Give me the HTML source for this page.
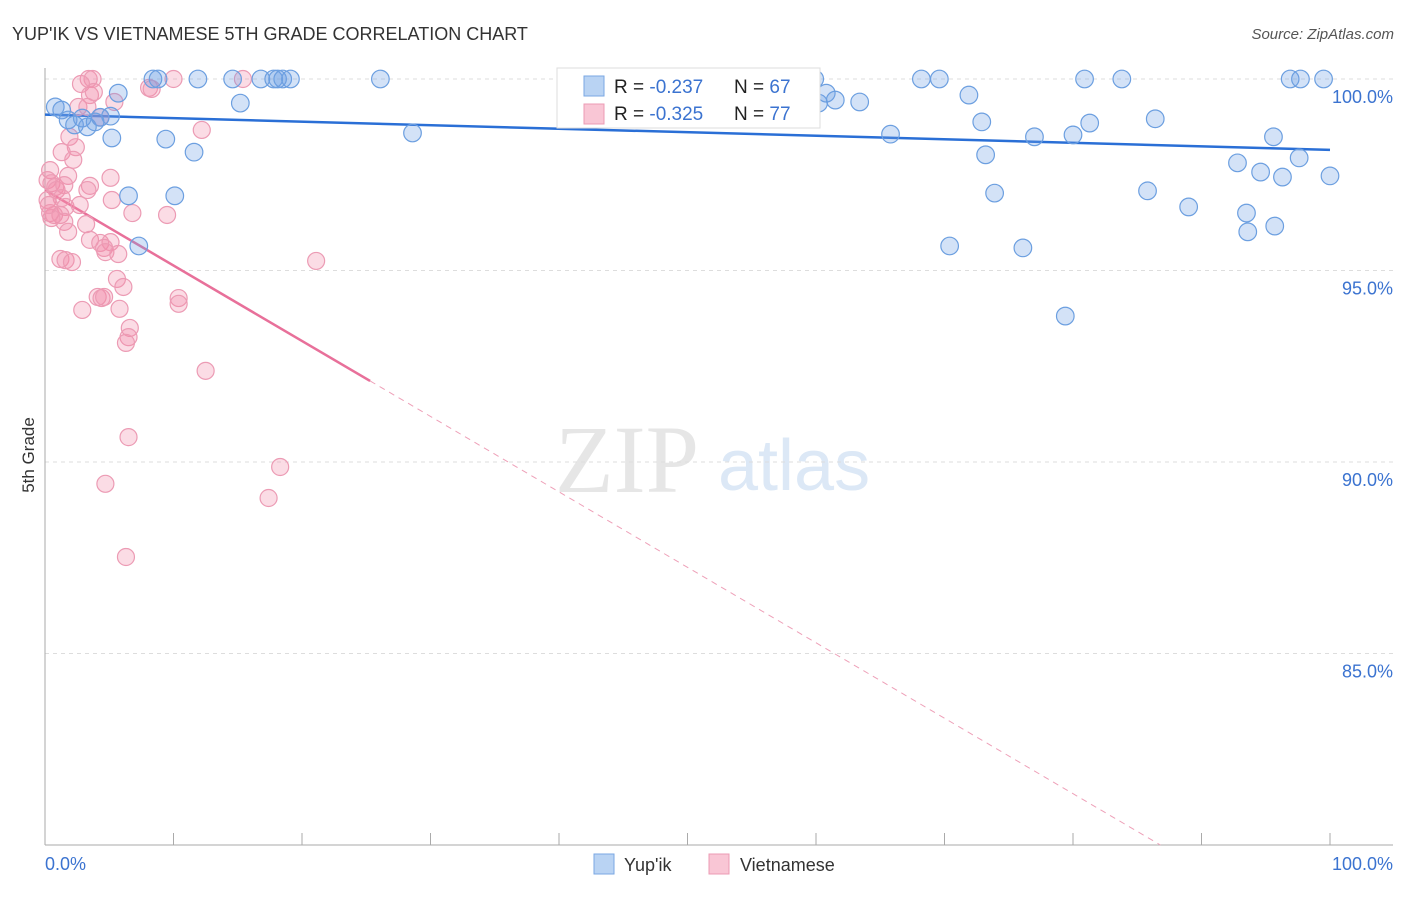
<!DOCTYPE html>
<html><head><meta charset="utf-8"><style>
body{margin:0;background:#fff;font-family:"Liberation Sans",sans-serif}
</style></head><body>
<svg width="1406" height="892" xmlns="http://www.w3.org/2000/svg" font-family="Liberation Sans, sans-serif">
<text x="12" y="40" font-size="18" fill="#333">YUP'IK VS VIETNAMESE 5TH GRADE CORRELATION CHART</text>
<text x="1394" y="39" font-size="15" fill="#555" font-style="italic" text-anchor="end">Source: ZipAtlas.com</text>
<text transform="translate(34,455) rotate(-90)" font-size="17" fill="#333" text-anchor="middle">5th Grade</text>
<text x="555" y="492" font-size="96" fill="#e6e6e6" font-family="Liberation Serif, serif">ZIP</text>
<text x="718" y="490" font-size="72" fill="#dce8f6">atlas</text>
<g id="grid"></g><g id="axes"></g><g id="lines"></g><g id="pts"></g>
<g>
<rect x="557" y="68" width="263" height="60" fill="#fff" stroke="#ddd"/>
<rect x="584" y="76" width="20" height="20" fill="#b9d3f3" stroke="#7aa7e3"/>
<rect x="584" y="104" width="20" height="20" fill="#f9c6d5" stroke="#ec9bb4"/>
<text x="614" y="93" font-size="19" fill="#222">R = <tspan fill="#3b73d0">-0.237</tspan></text>
<text x="734" y="93" font-size="19" fill="#222">N = <tspan fill="#3b73d0">67</tspan></text>
<text x="614" y="120" font-size="19" fill="#222">R = <tspan fill="#3b73d0">-0.325</tspan></text>
<text x="734" y="120" font-size="19" fill="#222">N = <tspan fill="#3b73d0">77</tspan></text>
</g>
<g>
<rect x="594" y="854" width="20" height="20" fill="#b9d3f3" stroke="#7aa7e3"/>
<text x="624" y="871" font-size="18" fill="#333">Yup'ik</text>
<rect x="709" y="854" width="20" height="20" fill="#f9c6d5" stroke="#ec9bb4"/>
<text x="740" y="871" font-size="18" fill="#333">Vietnamese</text>
</g>
</svg>
<script>
const yTicks=[100,95,90,85];
const yTickLabels=["100.0%","95.0%","90.0%","85.0%"];
const xEndLabels=["0.0%","100.0%"];
const blueX=[0.8,1.3,1.8,2.3,2.9,3.3,3.9,4.3,5.1,5.7,5.2,6.5,7.3,8.4,8.8,9.4,10.1,11.6,11.9,14.6,15.2,16.8,17.8,18.1,18.5,19.1,26.1,28.6,41.6,50.1,59.9,60.2,60.8,61.5,63.4,65.8,68.2,69.6,70.4,71.9,72.9,73.2,73.9,76.1,77.0,79.4,80.0,80.9,81.3,83.8,85.8,86.4,89.0,92.8,93.5,93.6,94.6,95.6,95.7,96.3,96.9,97.7,97.6,99.5,100];
const blueY=[99.27,99.19,98.93,98.8,98.98,98.75,98.88,99.0,99.03,99.63,98.46,96.95,95.64,100,100,98.43,96.95,98.09,100,100,99.37,100,100,100,100,100,100,98.59,100,100,100,99.37,99.63,99.45,99.4,98.56,100,100,95.64,99.58,98.88,98.02,97.02,95.59,98.49,93.81,98.54,100,98.85,100,97.08,98.96,96.66,97.81,96.5,96.01,97.57,98.49,96.16,97.44,100,100,97.94,100,97.47];
const pinkX=[3.4,3.7,2.8,3.5,3.8,5.4,2.6,3.3,4.3,1.9,2.4,1.3,2.2,0.4,1.8,0.2,0.5,0.8,0.9,3.5,5.1,1.5,3.3,0.2,1.3,1.6,2.7,5.2,6.8,9.5,0.4,0.7,1.2,1.5,3.2,1.8,3.5,4.3,5.1,4.6,4.7,5.7,1.2,1.6,2.1,21.1,5.6,6.1,4.1,4.4,4.6,10.4,10.4,5.8,2.9,6.6,6.5,6.3,12.5,6.5,18.3,4.7,17.4,6.3,8.1,8.3,10.0,15.4,12.2,0.5,0.3];
const pinkY=[100,100,99.87,99.58,99.66,99.4,99.27,99.27,99.0,98.49,98.22,98.09,97.89,97.62,97.47,97.36,97.28,97.18,97.1,97.21,97.42,97.23,97.1,96.84,96.89,96.66,96.71,96.84,96.5,96.45,96.5,96.45,96.45,96.27,96.21,96.01,95.8,95.72,95.74,95.59,95.48,95.43,95.3,95.27,95.22,95.25,94.78,94.57,94.31,94.28,94.31,94.28,94.13,94.0,93.97,93.5,93.26,93.11,92.38,90.65,89.87,89.43,89.06,87.52,99.77,99.74,100,100,98.67,96.37,96.71];
const blueFit=[99.07,98.15];
const pinkFit=[97.1,-0.197];
const pinkSolidEnd=25.3;
const NS="http://www.w3.org/2000/svg";
const X=v=>45+v*12.85, Y=v=>79+(100-v)*38.3;
function mk(t,a,p){const e=document.createElementNS(NS,t);for(const k in a)e.setAttribute(k,a[k]);document.getElementById(p).appendChild(e);return e;}
yTicks.forEach((t,i)=>{
 const l=mk('line',{x1:45,x2:1393,y1:Y(t),y2:Y(t),stroke:'#ddd','stroke-dasharray':'4,4'},'grid');
 
 
 const tx=mk('text',{x:1393,y:Y(t)+24,'font-size':18,fill:'#3b73d0','text-anchor':'end'},'grid');
 tx.textContent=yTickLabels[i];
 
 
});
const ax=mk('line',{x1:45,x2:45,y1:68,y2:845,stroke:'#aaa'},'axes');


const bx=mk('line',{x1:45,x2:1393,y1:845,y2:845,stroke:'#aaa'},'axes');


for(let i=1;i<=10;i++){const t=mk('line',{x1:X(i*10),x2:X(i*10),y1:833,y2:845,stroke:'#aaa'},'axes');
 
 }
const l0=mk('text',{x:45,y:870,'font-size':18,fill:'#3b73d0'},'axes');l0.textContent=xEndLabels[0];


const l1=mk('text',{x:1393,y:870,'font-size':18,fill:'#3b73d0','text-anchor':'end'},'axes');l1.textContent=xEndLabels[1];


pinkX.forEach((x,i)=>{const c=mk('circle',{cx:X(x),cy:Y(pinkY[i]),r:8.5,fill:'rgba(243,140,170,0.3)',stroke:'#ec9bb4','stroke-width':1.2},'pts');
 
 });
blueX.forEach((x,i)=>{const c=mk('circle',{cx:X(x),cy:Y(blueY[i]),r:8.8,fill:'rgba(110,160,230,0.3)',stroke:'#6c9fe0','stroke-width':1.2},'pts');
 
 });
const bl=mk('line',{x1:X(0),y1:Y(blueFit[0]),x2:X(100),y2:Y(blueFit[1]),stroke:'#2a6fd6','stroke-width':2.5},'lines');


const pf=x=>pinkFit[0]+pinkFit[1]*x;
const pl=mk('line',{x1:X(0),y1:Y(pf(0)),x2:X(pinkSolidEnd),y2:Y(pf(pinkSolidEnd)),stroke:'#e8709a','stroke-width':2.5},'lines');


const xEnd=(80-pinkFit[0])/pinkFit[1];
const pd=mk('line',{x1:X(pinkSolidEnd),y1:Y(pf(pinkSolidEnd)),x2:X(xEnd),y2:Y(80),stroke:'#eea0b8','stroke-width':1,'stroke-dasharray':'6,5'},'lines');


</script>
</body></html>
